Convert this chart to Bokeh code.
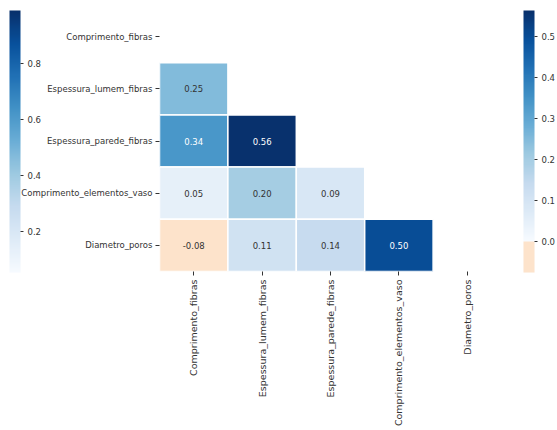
import numpy as np
from bokeh.plotting import figure
from bokeh.models import ColumnDataSource, LinearColorMapper, ColorBar, FixedTicker, PrintfTickFormatter
from bokeh.transform import transform
from bokeh.palettes import Blues256
from bokeh.embed import file_html
from bokeh.resources import INLINE
from bokeh.core.properties import value

# ---- data ----
variables = ["Comprimento_fibras", "Espessura_lumem_fibras", "Espessura_parede_fibras",
             "Comprimento_elementos_vaso", "Diametro_poros"]
# lower-triangle correlations, one list per row (columns in the order of `variables`)
corr_lumem = [0.25]
corr_parede = [0.34, 0.56]
corr_vaso = [0.05, 0.20, 0.09]
corr_poros = [-0.076, 0.11, 0.14, 0.50]
lower_rows = [corr_lumem, corr_parede, corr_vaso, corr_poros]

# colour-bar ranges
left_low, left_high = 0.054, 0.99
left_ticks = [0.2, 0.4, 0.6, 0.8]
right_low, right_high = -0.076, 0.564
right_ticks = [0.0, 0.1, 0.2, 0.3, 0.4, 0.5]

FONT = "DejaVu Sans"
TXT = "#333333"

# ---- table ----
xs, ys, vals, labels, tcolors = [], [], [], [], []
for r, row in enumerate(lower_rows, start=1):
    for c, v in enumerate(row):
        xs.append(variables[c])
        ys.append(variables[r])
        vals.append(v)
        labels.append(f"{v:.2f}")
        tcolors.append("white" if v > 0.3 else TXT)
src = ColumnDataSource(dict(x=xs, y=ys, value=vals, label=labels, tcolor=tcolors))

# ---- colour maps ----
blues = list(Blues256[::-1])
N = 256
pal = []
for i in range(N):
    t = right_low + (i + 0.5) * (right_high - right_low) / N
    if t < 0:
        pal.append("#fde3cb")
    else:
        pal.append(blues[min(255, int(t / right_high * 256))])
mapper = LinearColorMapper(palette=pal, low=right_low, high=right_high)
left_mapper = LinearColorMapper(palette=blues, low=left_low, high=left_high)

# ---- figure ----
p = figure(x_range=variables, y_range=variables[::-1], width=557, height=430,
           min_border_left=159, min_border_right=56, min_border_top=10, min_border_bottom=159,
           toolbar_location=None, output_backend="svg")

p.rect(x="x", y="y", width=1, height=1, source=src,
       fill_color=transform("value", mapper), line_color="white", line_width=1.5)
p.text(x="x", y="y", text="label", text_color="tcolor", source=src,
       text_align="center", text_baseline="middle",
       text_font=value(FONT), text_font_size="8.5px")

p.grid.grid_line_color = None
p.outline_line_color = None
p.axis.axis_line_color = None
p.axis.minor_tick_line_color = None
p.axis.major_tick_line_color = TXT
p.axis.major_tick_in = 0
p.axis.major_tick_out = 4
p.axis.major_label_text_font = FONT
p.axis.major_label_text_color = TXT
p.yaxis.major_label_text_font_size = "8.5px"
p.xaxis.major_label_text_font_size = "9.5px"
p.yaxis.major_label_standoff = 3
p.xaxis.major_label_standoff = 4
p.xaxis.major_label_orientation = np.pi / 2


def make_cb(m, loc, ticks):
    return ColorBar(color_mapper=m, location=loc, width=11, height=262, padding=0,
                    orientation="vertical",
                    ticker=FixedTicker(ticks=ticks), formatter=PrintfTickFormatter(format="%.1f"),
                    major_tick_in=0, major_tick_out=3, major_tick_line_color=TXT,
                    minor_tick_line_color=None,
                    major_label_text_font=FONT, major_label_text_font_size="8.5px",
                    major_label_text_color=TXT, label_standoff=4,
                    bar_line_color=None, border_line_color=None,
                    background_fill_alpha=0)


p.add_layout(make_cb(left_mapper, (-150, -1), left_ticks), "center")
p.add_layout(make_cb(mapper, (364, -1), right_ticks), "center")

open("out.html", "w").write(file_html(p, INLINE))
